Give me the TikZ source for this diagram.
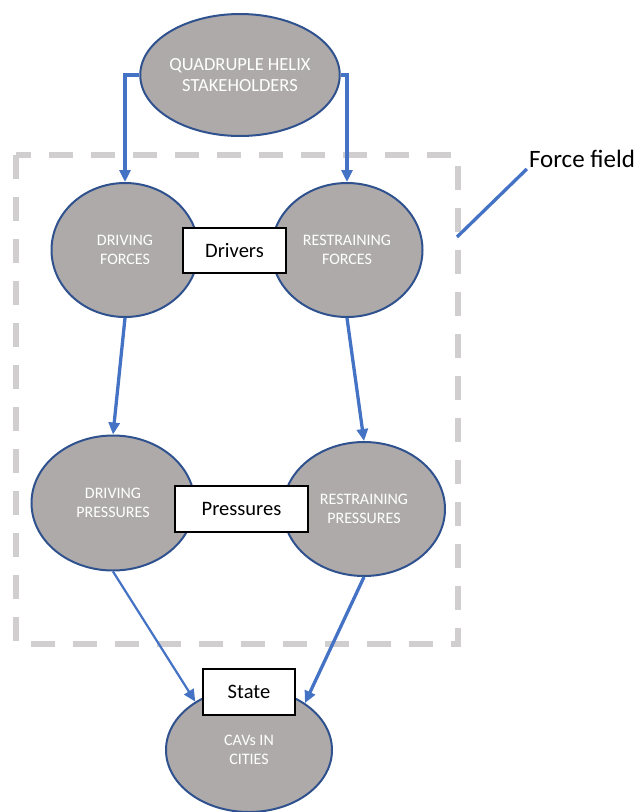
\documentclass[tikz,border=0pt]{standalone}
\usepackage{fontspec}
\setmainfont{Carlito}
\usepackage{tikz}
\usetikzlibrary{arrows.meta,shapes.geometric}

\definecolor{blobfill}{HTML}{AEAAAA}
\definecolor{blobline}{HTML}{2F528F}
\definecolor{arrowblue}{HTML}{4472C4}
\definecolor{fieldgray}{HTML}{D0CECE}

\begin{document}
\begin{tikzpicture}[x=1pt,y=-1pt,>={Triangle[length=12pt,width=11pt]},
      blob/.style={ellipse,draw=blobline,fill=blobfill,line width=2pt,inner sep=0pt,
        text=white,align=center,font=\fontsize{16}{19}\selectfont},
      tag/.style={draw=black,fill=white,line width=2.5pt,inner sep=0pt,
        font=\fontsize{20.5}{24}\selectfont},
      flow/.style={->,draw=arrowblue,line width=3.3pt}]
			\useasboundingbox (0,0) rectangle (640,812);
			% force field frame
			\draw[fieldgray,line width=6pt,dash pattern=on 24pt off 18pt,line join=miter]
				(15.5,155) rectangle (458,644);
			\node[blob,minimum width=187pt,minimum height=122pt,font=\fontsize{18.5}{21}\selectfont] (qh) at (240,75) {QUADRUPLE HELIX\\STAKEHOLDERS};
			\node[blob,minimum width=147pt,minimum height=134pt] (df) at (125,250) {DRIVING\\FORCES};
			\node[blob,minimum width=151pt,minimum height=134pt] (rf) at (347,250) {RESTRAINING\\FORCES};
			\node[blob,minimum width=163pt,minimum height=135pt] (dp) at (113,503) {DRIVING\\PRESSURES};
			\node[blob,minimum width=162pt,minimum height=134pt] (rp) at (364,509) {RESTRAINING\\PRESSURES};
			\node[blob,minimum width=166pt,minimum height=124pt] (cav) at (249,750) {CAVs IN\\CITIES};
			\node[tag,minimum width=103pt,minimum height=45pt] (drivers) at (234.5,250.5) {Drivers};
			\node[tag,minimum width=133pt,minimum height=46pt] (pressures) at (241.5,509) {Pressures};
			\node[tag,minimum width=92pt,minimum height=46pt] (state) at (249,692) {State};
			\node[inner sep=0pt,font=\fontsize{25}{30}\selectfont] (ff) at (582,159) {Force field};
			\coordinate (ffpt) at (457,237);
			\draw[flow] (qh.west) -| (df.north);
			\draw[flow] (qh.east) -| (rf.north);
			\draw[flow] (df.south) -- (dp.north);
			\draw[flow] (rf.south) -- (rp.north);
			\draw[flow,line width=2.2pt] (dp.south) -- (cav.138);
			\draw[flow] (rp.south) -- (cav.40);
			\draw[arrowblue,line width=3.3pt] (ff.south west) ++(-2,1) -- (ffpt);
		\end{tikzpicture}
\end{document}
